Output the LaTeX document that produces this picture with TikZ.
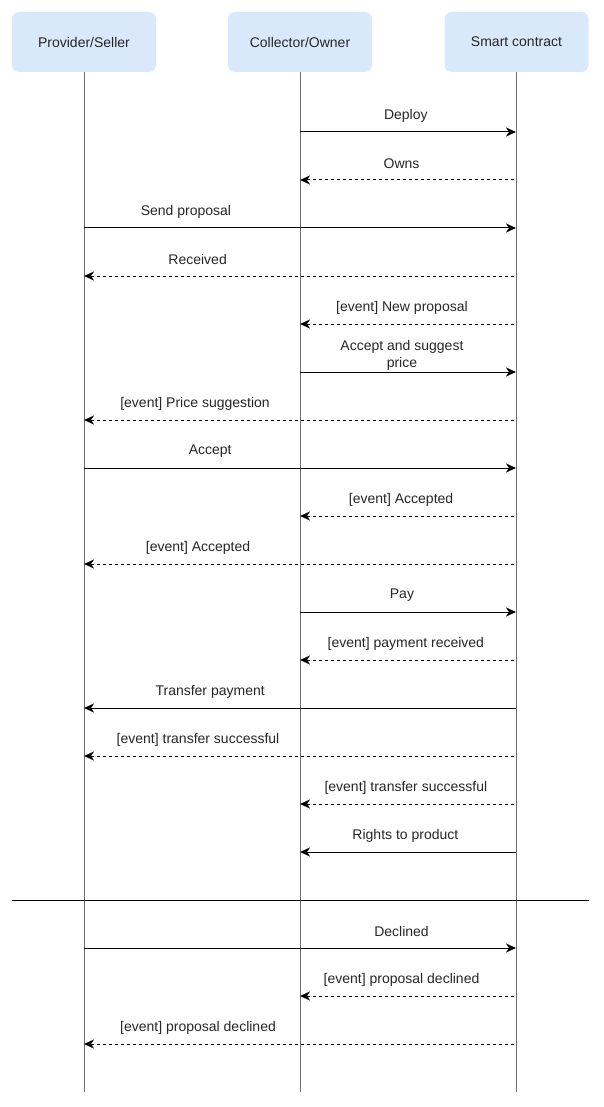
\documentclass[tikz,border=0pt]{standalone}
\usepackage{fontspec}
\setmainfont{Liberation Sans}
\usetikzlibrary{arrows.meta}
\definecolor{boxfill}{HTML}{DAE8FC}
\definecolor{lifegray}{HTML}{707070}
\begin{document}
\begin{tikzpicture}[x=1pt,y=-1pt,
  every node/.style={font=\fontsize{14}{17}\selectfont, inner sep=0pt, text=black!85},
  actor/.style={fill=boxfill, draw=none, rounded corners=7pt, minimum width=144pt, minimum height=60pt},
  life/.style={draw=lifegray, line width=0.9pt},
  msg/.style={draw=black, line width=1pt},
  reply/.style={draw=black, line width=1pt, dash pattern=on 3pt off 3pt},
  tip/.style={-{Stealth[length=10pt,width=9pt,inset=3pt]}},
  rtip/.style={{Stealth[length=10pt,width=9pt,inset=3pt]}-},
  lbl/.style={yshift=16.5pt, align=center}]
\useasboundingbox (0,0) rectangle (603,1107);
% actors
\node[actor] (ps) at (84,42) {Provider/Seller};
\node[actor] (co) at (300,42) {Collector/Owner};
\node[actor] (sc) at (516.5,42) {Smart contract};
% lifeline ends
\coordinate (psend) at (84,1092);
\coordinate (coend) at (300,1092);
\coordinate (scend) at (516,1092);
\draw[life] (ps.south) -- (psend);
\draw[life] (co.south) -- (coend);
\draw[life] (sc.south -| scend) -- (scend);
% messages
\draw[msg,tip] (co.south |- 0,132) -- node[pos=0.49,lbl]{Deploy} (scend |- 0,132);
\draw[reply,rtip] (co.south |- 0,180) -- node[pos=0.47,lbl]{Owns} (scend |- 0,180);
\draw[msg,tip] (ps.south |- 0,228) -- node[pos=0.236,lbl]{Send proposal} (scend |- 0,228);
\draw[reply,rtip] (ps.south |- 0,276) -- node[pos=0.263,lbl]{Received} (scend |- 0,276);
\draw[reply,rtip] (co.south |- 0,324) -- node[pos=0.472,lbl]{[event] New proposal} (scend |- 0,324);
\draw[msg,tip] (co.south |- 0,372) -- node[pos=0.472,lbl]{Accept and suggest\\price} (scend |- 0,372);
\draw[reply,rtip] (ps.south |- 0,420) -- node[pos=0.257,lbl]{[event] Price suggestion} (scend |- 0,420);
\draw[msg,tip] (ps.south |- 0,468) -- node[pos=0.292,lbl]{Accept} (scend |- 0,468);
\draw[reply,rtip] (co.south |- 0,516) -- node[pos=0.468,lbl]{[event] Accepted} (scend |- 0,516);
\draw[reply,rtip] (ps.south |- 0,564) -- node[pos=0.264,lbl]{[event] Accepted} (scend |- 0,564);
\draw[msg,tip] (co.south |- 0,612) -- node[pos=0.472,lbl]{Pay} (scend |- 0,612);
\draw[reply,rtip] (co.south |- 0,660) -- node[pos=0.49,lbl]{[event] payment received} (scend |- 0,660);
\draw[msg,rtip] (ps.south |- 0,708) -- node[pos=0.292,lbl]{Transfer payment} (scend |- 0,708);
\draw[reply,rtip] (ps.south |- 0,756) -- node[pos=0.264,lbl]{[event] transfer successful} (scend |- 0,756);
\draw[reply,rtip] (co.south |- 0,804) -- node[pos=0.49,lbl]{[event] transfer successful} (scend |- 0,804);
\draw[msg,rtip] (co.south |- 0,852) -- node[pos=0.488,lbl]{Rights to product} (scend |- 0,852);
% separator
\coordinate (sepl) at (12,900);
\coordinate (sepr) at (589,900);
\draw[msg] (sepl) -- (sepr);
\draw[msg,tip] (ps.south |- 0,948) -- node[pos=0.735,lbl]{Declined} (scend |- 0,948);
\draw[reply,rtip] (co.south |- 0,996) -- node[pos=0.47,lbl]{[event] proposal declined} (scend |- 0,996);
\draw[reply,rtip] (ps.south |- 0,1044) -- node[pos=0.264,lbl]{[event] proposal declined} (scend |- 0,1044);
\end{tikzpicture}
\end{document}
